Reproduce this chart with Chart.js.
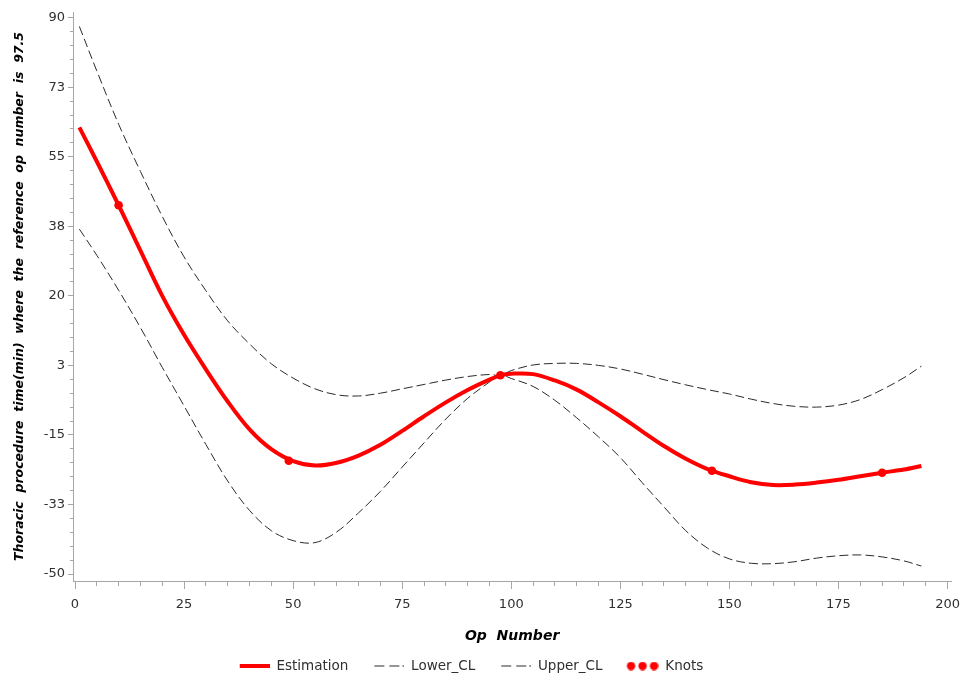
<!DOCTYPE html>
<html>
<head>
<meta charset="utf-8">
<title>Thoracic procedure time spline</title>
<script src="https://cdn.jsdelivr.net/npm/chart.js@4.4.1/dist/chart.umd.min.js"></script>
<style>
  html, body { margin: 0; padding: 0; background: #fff; }
  #wrap { width: 968px; height: 675px; }
</style>
</head>
<body>
<div id="wrap"><canvas id="spline"></canvas></div>
<script>
var opNumber = [1, 5, 10, 15, 20, 25, 30, 35, 40, 45, 50, 55, 60, 65, 70, 75, 80, 85, 90, 95, 97.5,
    100, 105, 110, 115, 120, 125, 130, 135, 140, 145, 150, 155, 160, 165, 170, 175, 180, 185, 190, 194];

var estimation = [62.4, 53.8, 42.8, 31.4, 20.0, 10.2, 1.5, -6.6, -13.6, -18.6, -21.6, -22.7, -22.0, -20.2, -17.5, -14.0, -10.3, -6.8, -3.7, -1.1, 0,
    0.4, 0.3, -1.3, -3.6, -6.8, -10.3, -14.1, -17.8, -21.0, -23.6, -25.4, -26.9, -27.6, -27.5, -27.0, -26.3, -25.4, -24.5, -23.7, -22.8];

var lowerCL = [36.8, 30.2, 21.4, 12.0, 2.0, -7.7, -17.4, -26.6, -34.0, -39.1, -41.6, -42.1, -39.4, -34.6, -29.2, -23.1, -17.0, -11.0, -5.8, -1.7, 0,
    -0.8, -2.8, -6.3, -10.7, -15.5, -20.7, -27.0, -33.1, -39.1, -43.5, -46.2, -47.3, -47.4, -46.9, -46.0, -45.4, -45.2, -45.7, -46.7, -48.0];

var upperCL = [87.8, 76.6, 63.2, 51.3, 40.0, 29.8, 21.3, 13.7, 7.9, 2.9, -0.7, -3.4, -4.9, -5.2, -4.5, -3.4, -2.3, -1.2, -0.3, 0.2, 0,
    1.2, 2.6, 3.0, 3.0, 2.5, 1.6, 0.3, -1.1, -2.4, -3.6, -4.7, -6.0, -7.1, -7.8, -8.0, -7.5, -6.1, -3.6, -0.6, 2.3];

var knotX = [10, 49, 97.5, 146, 185];
var knotY = [42.8, -21.5, 0, -24.0, -24.5];

var xTicks = [0, 25, 50, 75, 100, 125, 150, 175, 200];
var yTicks = [-50, -32.5, -15, 2.5, 20, 37.5, 55, 72.5, 90];
var yTickLabels = ['-50', '-33', '-15', '3', '20', '38', '55', '73', '90'];

var axisGray = '#a6a6a6';
var textColor = '#303030';
var dashColor = '#2a2a2a';

function points(xs, ys) {
    return xs.map(function (x, i) { return { x: x, y: ys[i] }; });
}

// majors plus 4 minor ticks in every gap
function withMinor(majors) {
    var out = [];
    for (var i = 0; i < majors.length; i++) {
        out.push({ value: majors[i] });
        if (i < majors.length - 1) {
            var step = (majors[i + 1] - majors[i]) / 5;
            for (var k = 1; k < 5; k++) out.push({ value: majors[i] + step * k });
        }
    }
    return out;
}

function isMajor(list, v) {
    return list.some(function (m) { return Math.abs(m - v) < 1e-6; });
}

// legend icons: 46px wide, drawing sits in the right 30px so the gap before it widens
function iconCanvas(h) {
    var c = document.createElement('canvas');
    c.width = 46; c.height = h;
    return c;
}
function redLineIcon() {
    var c = iconCanvas(4);
    var g = c.getContext('2d');
    g.fillStyle = '#ff0000';
    g.fillRect(16, 0, 30, 4);
    return c;
}
function dashIcon() {
    var c = iconCanvas(7);
    var g = c.getContext('2d');
    g.strokeStyle = dashColor;
    g.lineWidth = 1;
    g.setLineDash([10, 5, 10, 3, 2, 100]);
    g.beginPath(); g.moveTo(16, 3.5); g.lineTo(46, 3.5); g.stroke();
    return c;
}
function knotIcon() {
    var c = iconCanvas(9);
    var g = c.getContext('2d');
    g.fillStyle = '#ff0000';
    [18.5, 30, 41.5].forEach(function (cx) {
        g.beginPath(); g.arc(cx, 4.5, 4.2, 0, Math.PI * 2); g.fill();
    });
    return c;
}
var legendIcons = [redLineIcon(), dashIcon(), dashIcon(), knotIcon()];

// the SAS legend sits a little left of centre
var legendNudge = {
    id: 'legendNudge',
    afterLayout: function (chart) {
        chart.legend.left -= 15;
        chart.legend.right -= 15;
    }
};

var ctx = document.getElementById('spline').getContext('2d');
var spline = new Chart(ctx, {
    type: 'line',
    data: {
        datasets: [{
            label: 'Estimation',
            data: points(opNumber, estimation),
            borderColor: '#ff0000',
            borderWidth: 4,
            pointRadius: 0,
            tension: 0.35,
            order: 1
        }, {
            label: 'Lower_CL',
            data: points(opNumber, lowerCL),
            borderColor: dashColor,
            borderWidth: 1,
            borderDash: [9, 4],
            pointRadius: 0,
            tension: 0.35,
            order: 2
        }, {
            label: 'Upper_CL',
            data: points(opNumber, upperCL),
            borderColor: dashColor,
            borderWidth: 1,
            borderDash: [9, 4],
            pointRadius: 0,
            tension: 0.35,
            order: 3
        }, {
            label: 'Knots',
            data: points(knotX, knotY),
            showLine: false,
            pointRadius: 4.3,
            pointBackgroundColor: '#ff0000',
            pointBorderColor: '#ff0000',
            pointBorderWidth: 0,
            order: 0
        }]
    },
    options: {
        responsive: true,
        maintainAspectRatio: false,
        animation: false,
        layout: { padding: { top: 12, right: 11, left: 0, bottom: -7.75 } },
        plugins: {
            tooltip: { enabled: false },
            legend: {
                position: 'bottom',
                labels: {
                    usePointStyle: true,
                    pointStyleWidth: 46,
                    padding: 10,
                    color: textColor,
                    font: { family: 'DejaVu Sans', size: 13.5 },
                    sort: function (a, b) { return a.datasetIndex - b.datasetIndex; },
                    generateLabels: function (chart) {
                        var items = Chart.defaults.plugins.legend.labels.generateLabels(chart);
                        items.forEach(function (it) { it.pointStyle = legendIcons[it.datasetIndex]; });
                        return items;
                    }
                }
            }
        },
        scales: {
            x: {
                type: 'linear',
                min: -0.46,
                max: 200.84,
                afterBuildTicks: function (scale) { scale.ticks = withMinor(xTicks); },
                afterFit: function (scale) { scale.height = 68.25; },
                border: { display: true, color: axisGray, width: 1 },
                grid: {
                    drawOnChartArea: false,
                    tickLength: 8,
                    tickColor: axisGray,
                    tickBorderDash: function (c) { return isMajor(xTicks, c.tick.value) ? [] : [4, 100]; }
                },
                ticks: {
                    autoSkip: false,
                    maxRotation: 0,
                    padding: 8,
                    color: textColor,
                    font: { family: 'DejaVu Sans', size: 13 },
                    callback: function (v) { return isMajor(xTicks, v) ? String(Math.round(v)) : ''; }
                },
                title: {
                    display: true,
                    text: 'Op  Number',
                    color: '#000',
                    padding: { top: 4, bottom: 4 },
                    font: { family: 'DejaVu Sans', size: 14, weight: 'bold', style: 'italic' }
                }
            },
            y: {
                type: 'linear',
                min: -51.76,
                max: 91.43,
                afterBuildTicks: function (scale) { scale.ticks = withMinor(yTicks); },
                afterFit: function (scale) { scale.width = 73; },
                border: { display: true, color: axisGray, width: 1 },
                grid: {
                    drawOnChartArea: false,
                    tickLength: 5,
                    tickColor: axisGray,
                    tickBorderDash: function (c) { return isMajor(yTicks, c.tick.value) ? [] : [0, 2, 3, 100]; }
                },
                ticks: {
                    autoSkip: false,
                    padding: 3,
                    color: textColor,
                    font: { family: 'DejaVu Sans', size: 13 },
                    callback: function (v) {
                        for (var i = 0; i < yTicks.length; i++) {
                            if (Math.abs(yTicks[i] - v) < 1e-6) return yTickLabels[i];
                        }
                        return '';
                    }
                },
                title: {
                    display: true,
                    text: 'Thoracic  procedure  time(min)  where  the  reference  op  number  is  97.5',
                    color: '#000',
                    padding: { top: 12, bottom: 0 },
                    font: { family: 'DejaVu Sans', size: 12.5, weight: 'bold', style: 'italic' }
                }
            }
        }
    },
    plugins: [legendNudge]
});
</script>
</body>
</html>
